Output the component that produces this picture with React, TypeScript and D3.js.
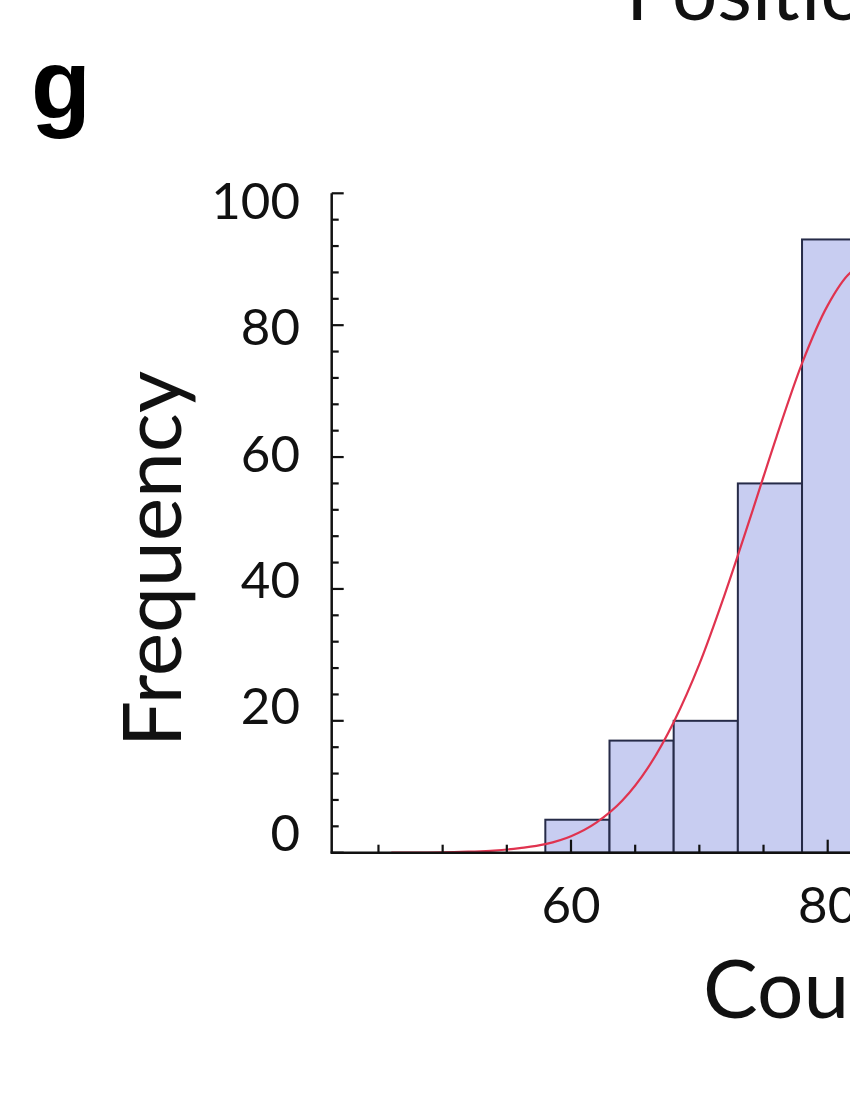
import React from "react";
import * as d3 from "d3";

// ---- data ----
const binEdges = [58, 63, 68, 73, 78, 83];
const frequencies = [5, 17, 20, 56, 93];

// fitted (red) curve
const fitX = [46, 48, 50, 52, 54, 56, 58, 60, 62, 64, 66, 68, 70, 72, 74, 76, 78, 80, 82, 84, 86];
const fitY = [0, 0.02, 0.05, 0.15, 0.3, 0.7, 1.3, 2.5, 4.6, 7.9, 12.9, 19.8, 28.6, 39.3, 51, 63, 74.2, 83, 88.3, 89.5, 86];

const yTickLabels = [0, 20, 40, 60, 80, 100];
const xTickLabels = [60, 80, 100];
const yMinorStep = 4;
const xMinorStep = 5;

const panelLetter = "g";
const titleText = "Position";
const xLabelText = "Counts";
const yLabelText = "Frequency";

export default function App() {
  const W = 850;
  const H = 1100;
  const x = d3.scaleLinear().domain([60, 80]).range([571, 827.7]);
  const y = d3.scaleLinear().domain([0, 100]).range([852.7, 193.3]);
  // tick labels in the reference are laid out on a slightly tighter spacing
  const yLab = d3.scaleLinear().domain([0, 100]).range([833, 201]);
  const xOrigin = x.invert(331.7);

  const yTicks = d3.range(0, 100 + 0.001, yMinorStep);
  const xTicks = d3.range(45, 100 + 0.001, xMinorStep);

  const line = d3
    .line<number>()
    .x((_, i) => x(fitX[i]))
    .y((d) => y(d))
    .curve(d3.curveMonotoneX);

  const font = "Lato, 'Open Sans', sans-serif";

  return (
    <svg
      width={W}
      height={H}
      viewBox={`0 0 ${W} ${H}`}
      style={{ position: "absolute", left: 0, top: 0, background: "#fff" }}
    >
      <rect x={0} y={0} width={W} height={H} fill="#fff" />
      {/* title (cut at top, as in the reference) */}
      <text x={626} y={20} fontFamily={font} fontSize={80} fill="#111">
        {titleText}
      </text>
      {/* panel letter */}
      <text x={31} y={119} fontFamily="'Liberation Sans', Arial, sans-serif" fontWeight="bold" fontSize={98} fill="#000">
        {panelLetter}
      </text>

      {/* bars */}
      {frequencies.map((f, i) => (
        <rect
          key={i}
          x={x(binEdges[i])}
          y={y(f)}
          width={x(binEdges[i + 1]) - x(binEdges[i])}
          height={y(0) - y(f)}
          fill="#c8cdf1"
          stroke="#262b48"
          strokeWidth={2}
        />
      ))}

      {/* fitted curve */}
      <path d={line(fitY) || ""} fill="none" stroke="#e0334f" strokeWidth={2.2} />

      {/* y axis */}
      <line x1={x(xOrigin)} x2={x(xOrigin)} y1={y(100)} y2={y(0)} stroke="#111" strokeWidth={2.5} />
      {yTicks.map((v) => {
        const major = Math.abs(v % 20) < 1e-6;
        return (
          <line
            key={"yt" + v}
            x1={x(xOrigin)}
            x2={x(xOrigin) + (major ? 12 : 7)}
            y1={y(v)}
            y2={y(v)}
            stroke="#111"
            strokeWidth={2.2}
          />
        );
      })}
      {yTickLabels.map((v) => (
        <text
          key={"yl" + v}
          x={300}
          y={yLab(v)}
          dy="0.35em"
          textAnchor="end"
          fontFamily={font}
          fontSize={51}
          fill="#111"
        >
          {v}
        </text>
      ))}

      {/* x axis */}
      <line x1={x(xOrigin) - 1.2} x2={W} y1={y(0)} y2={y(0)} stroke="#111" strokeWidth={2.5} />
      {xTicks.map((v) => {
        const major = Math.abs(v % 20) < 1e-6;
        return (
          <line
            key={"xt" + v}
            x1={x(v)}
            x2={x(v)}
            y1={y(0)}
            y2={y(0) - (major ? 13 : 8)}
            stroke="#111"
            strokeWidth={2.2}
          />
        );
      })}
      {xTickLabels.map((v) => (
        <text
          key={"xl" + v}
          x={x(v)}
          y={923}
          textAnchor="middle"
          fontFamily={font}
          fontSize={51}
          fill="#111"
        >
          {v}
        </text>
      ))}

      {/* axis titles */}
      <text
        transform={`translate(181, 559) rotate(-90)`}
        textAnchor="middle"
        fontFamily={font}
        fontSize={82}
        fill="#111"
      >
        {yLabelText}
      </text>
      <text x={703} y={1018} fontFamily={font} fontSize={82} fill="#111">
        {xLabelText}
      </text>
    </svg>
  );
}
